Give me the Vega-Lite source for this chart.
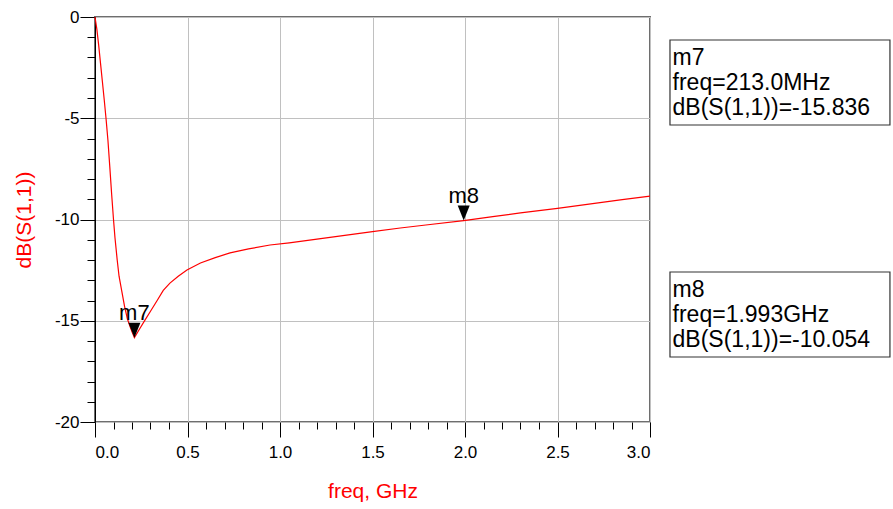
{
  "$schema": "https://vega.github.io/schema/vega-lite/v6.json",
  "width": 555,
  "height": 405,
  "autosize": {"type": "none"},
  "padding": {"left": 95, "top": 17, "right": 243, "bottom": 87},
  "background": "white",
  "config": {
    "font": "Liberation Sans",
    "view": {"stroke": "#6e6e6e", "strokeWidth": 2},
    "axis": {"labelFont": "Liberation Sans", "titleFont": "Liberation Sans"}
  },
  "datasets": {
    "s11": [
      {"freq": 0, "db": 0},
      {"freq": 0.01, "db": -0.6},
      {"freq": 0.02, "db": -1.4},
      {"freq": 0.03, "db": -2.3},
      {"freq": 0.04, "db": -3.2},
      {"freq": 0.05, "db": -4.1},
      {"freq": 0.06, "db": -5.05},
      {"freq": 0.07, "db": -6.1},
      {"freq": 0.08, "db": -7.4},
      {"freq": 0.09, "db": -8.75},
      {"freq": 0.1, "db": -10.0},
      {"freq": 0.108, "db": -10.9},
      {"freq": 0.12, "db": -12.0},
      {"freq": 0.13, "db": -12.8},
      {"freq": 0.144, "db": -13.5},
      {"freq": 0.16, "db": -14.3},
      {"freq": 0.175, "db": -14.9},
      {"freq": 0.19, "db": -15.3},
      {"freq": 0.2, "db": -15.55},
      {"freq": 0.213, "db": -15.836},
      {"freq": 0.24, "db": -15.42},
      {"freq": 0.27, "db": -14.97},
      {"freq": 0.3, "db": -14.53},
      {"freq": 0.336, "db": -14.0},
      {"freq": 0.369, "db": -13.5},
      {"freq": 0.405, "db": -13.14},
      {"freq": 0.45, "db": -12.8},
      {"freq": 0.497, "db": -12.49},
      {"freq": 0.57, "db": -12.15},
      {"freq": 0.65, "db": -11.88},
      {"freq": 0.73, "db": -11.65},
      {"freq": 0.83, "db": -11.45},
      {"freq": 0.946, "db": -11.26},
      {"freq": 1.05, "db": -11.15},
      {"freq": 1.2, "db": -10.97},
      {"freq": 1.35, "db": -10.78},
      {"freq": 1.5, "db": -10.6},
      {"freq": 1.65, "db": -10.42},
      {"freq": 1.8, "db": -10.26},
      {"freq": 1.993, "db": -10.054},
      {"freq": 2.15, "db": -9.86},
      {"freq": 2.3, "db": -9.67},
      {"freq": 2.5, "db": -9.45},
      {"freq": 2.7, "db": -9.2},
      {"freq": 2.85, "db": -9.02},
      {"freq": 3.0, "db": -8.85}
    ],
    "markers": [
      {"name": "m7", "freq": 0.213, "db": -15.836, "readout": "m7\nfreq=213.0MHz\ndB(S(1,1))=-15.836"},
      {"name": "m8", "freq": 1.993, "db": -10.054, "readout": "m8\nfreq=1.993GHz\ndB(S(1,1))=-10.054"}
    ]
  },
  "layer": [
    {
      "data": {"name": "s11"},
      "mark": {"type": "line", "color": "#ff0000", "strokeWidth": 1.2},
      "encoding": {
        "x": {
          "field": "freq", "type": "quantitative",
          "scale": {"domain": [0, 3], "nice": false, "zero": false},
          "axis": {
            "orient": "bottom",
            "values": [0, 0.5, 1, 1.5, 2, 2.5, 3],
            "labelExpr": "format(datum.value, '.1f')",
            "labelFontSize": 17, "labelColor": "black", "labelPadding": 7,
            "tickSize": 15, "tickColor": "black", "tickWidth": 1,
            "domain": false,
            "grid": true, "gridColor": "#c0c0c0", "gridWidth": 1,
            "title": "freq, GHz", "titleColor": "#ff0000", "titleFontSize": 21,
            "titleFontWeight": "normal", "titlePadding": 20
          }
        },
        "y": {
          "field": "db", "type": "quantitative",
          "scale": {"domain": [-20, 0], "nice": false, "zero": false},
          "axis": {
            "orient": "left",
            "values": [-20, -15, -10, -5, 0],
            "labelExpr": "'' + datum.value",
            "labelFontSize": 17, "labelColor": "black", "labelPadding": 1,
            "tickSize": 15, "tickColor": "black", "tickWidth": 1,
            "domain": true, "domainColor": "black", "domainWidth": 1,
            "grid": true, "gridColor": "#c0c0c0", "gridWidth": 1,
            "title": "dB(S(1,1))", "titleColor": "#ff0000", "titleFontSize": 21,
            "titleFontWeight": "normal", "titlePadding": 20
          }
        }
      }
    },
    {
      "data": {"name": "markers"},
      "mark": {"type": "point", "shape": "M-1,-2.5L1,-2.5L0,0Z", "filled": true, "color": "black", "opacity": 1, "size": 144},
      "encoding": {
        "x": {
          "field": "freq", "type": "quantitative",
          "axis": {
            "orient": "bottom",
            "values": [0.1, 0.2, 0.3, 0.4, 0.6, 0.7, 0.8, 0.9, 1.1, 1.2, 1.3, 1.4, 1.6, 1.7, 1.8, 1.9, 2.1, 2.2, 2.3, 2.4, 2.6, 2.7, 2.8, 2.9],
            "labels": false, "tickSize": 7, "tickColor": "black", "tickWidth": 1,
            "domain": false, "grid": false, "title": null
          }
        },
        "y": {
          "field": "db", "type": "quantitative",
          "axis": {
            "orient": "left",
            "values": [-19, -18, -17, -16, -14, -13, -12, -11, -9, -8, -7, -6, -4, -3, -2, -1],
            "labels": false, "tickSize": 8, "tickColor": "black", "tickWidth": 1,
            "domain": false, "grid": false, "title": null
          }
        }
      }
    },
    {
      "data": {"name": "markers"},
      "mark": {"type": "text", "fontSize": 22, "align": "center", "baseline": "alphabetic", "dy": -18, "color": "black"},
      "encoding": {
        "x": {"field": "freq", "type": "quantitative", "axis": null},
        "y": {"field": "db", "type": "quantitative", "axis": null},
        "text": {"field": "name", "type": "nominal"}
      }
    },
    {
      "data": {"name": "markers"},
      "transform": [{"filter": "datum.name == 'm7'"}],
      "mark": {"type": "rect", "fill": "white", "stroke": "#333333", "strokeWidth": 1.2},
      "encoding": {
        "x": {"datum": 3.108, "type": "quantitative", "axis": null},
        "x2": {"datum": 4.297},
        "y": {"datum": -1.136, "type": "quantitative", "axis": null},
        "y2": {"datum": -5.333}
      }
    },
    {
      "data": {"name": "markers"},
      "transform": [{"filter": "datum.name == 'm7'"}],
      "mark": {"type": "text", "fontSize": 23, "lineHeight": 25, "lineBreak": "\n", "align": "left", "baseline": "alphabetic", "color": "black"},
      "encoding": {
        "x": {"datum": 3.122, "type": "quantitative", "axis": null},
        "y": {"datum": -2.37, "type": "quantitative", "axis": null},
        "text": {"field": "readout", "type": "nominal"}
      }
    },
    {
      "data": {"name": "markers"},
      "transform": [{"filter": "datum.name == 'm8'"}],
      "mark": {"type": "rect", "fill": "white", "stroke": "#333333", "strokeWidth": 1.2},
      "encoding": {
        "x": {"datum": 3.108, "type": "quantitative", "axis": null},
        "x2": {"datum": 4.297},
        "y": {"datum": -12.593, "type": "quantitative", "axis": null},
        "y2": {"datum": -16.79}
      }
    },
    {
      "data": {"name": "markers"},
      "transform": [{"filter": "datum.name == 'm8'"}],
      "mark": {"type": "text", "fontSize": 23, "lineHeight": 25, "lineBreak": "\n", "align": "left", "baseline": "alphabetic", "color": "black"},
      "encoding": {
        "x": {"datum": 3.122, "type": "quantitative", "axis": null},
        "y": {"datum": -13.827, "type": "quantitative", "axis": null},
        "text": {"field": "readout", "type": "nominal"}
      }
    }
  ],
  "resolve": {"axis": {"x": "independent", "y": "independent"}}
}
